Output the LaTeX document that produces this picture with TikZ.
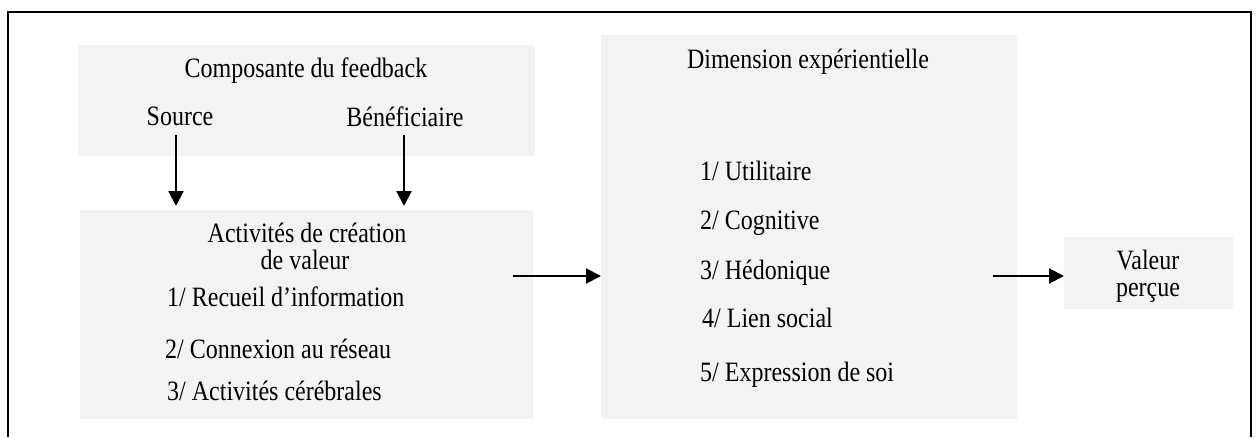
\documentclass[tikz,border=0pt]{standalone}
\usepackage{fontspec}
\usepackage{graphicx}
\setmainfont{Liberation Serif}
\usetikzlibrary{arrows.meta}
\definecolor{boxgray}{RGB}{243,243,243}
\newcommand{\narrowtxt}[1]{\scalebox{0.857}[1]{#1}}
\begin{document}
\begin{tikzpicture}[x=1pt,y=-1pt,
  panel/.style={fill=boxgray, draw=none, inner sep=0pt, outer sep=0pt},
  lbl/.style={font=\fontsize{28}{32}\selectfont, inner sep=0pt},
  arr/.style={-{Triangle[width=15pt,length=15pt]}, line width=2pt}]
\useasboundingbox (0,0) rectangle (1256,437);
\fill[white] (0,0) rectangle (1256,437);
\draw[line width=2pt] (8,437) -- (8,12) -- (1251,12) -- (1251,437);

% panels
\node[panel, minimum width=457pt, minimum height=111pt] (comp) at (306.5,100.5) {};
\node[panel, minimum width=453pt, minimum height=209pt] (act) at (306.5,314.5) {};
\node[panel, minimum width=416pt, minimum height=384pt] (dim) at (809,227) {};
\node[panel, minimum width=169pt, minimum height=72pt] (val) at (1148.5,273) {};

% texts, first panel
\node[lbl, anchor=base] (tcomp) at (306,77) {\narrowtxt{Composante du feedback}};
\node[lbl, anchor=base] (src) at (180,125) {\narrowtxt{Source}};
\node[lbl, anchor=base] (ben) at (405,126) {\narrowtxt{Bénéficiaire}};

% texts, second panel
\node[lbl, anchor=base] (tact1) at (307,242) {\narrowtxt{Activités de création}};
\node[lbl, anchor=base] (tact2) at (305,269) {\narrowtxt{de valeur}};
\node[lbl, anchor=base west] (a1) at (167,306) {\narrowtxt{1/ Recueil d’information}};
\node[lbl, anchor=base west] (a2) at (165,358) {\narrowtxt{2/ Connexion au réseau}};
\node[lbl, anchor=base west] (a3) at (167,400) {\narrowtxt{3/ Activités cérébrales}};

% texts, third panel
\node[lbl, anchor=base] (tdim) at (808,68) {\narrowtxt{Dimension expérientielle}};
\node[lbl, anchor=base west] (d1) at (700,180) {\narrowtxt{1/ Utilitaire}};
\node[lbl, anchor=base west] (d2) at (700,229) {\narrowtxt{2/ Cognitive}};
\node[lbl, anchor=base west] (d3) at (700,279) {\narrowtxt{3/ Hédonique}};
\node[lbl, anchor=base west] (d4) at (702,327) {\narrowtxt{4/ Lien social}};
\node[lbl, anchor=base west] (d5) at (700,381) {\narrowtxt{5/ Expression de soi}};

% texts, fourth panel
\node[lbl, anchor=base] (tval1) at (1148,269) {\narrowtxt{Valeur}};
\node[lbl, anchor=base] (tval2) at (1148,296) {\narrowtxt{perçue}};

% connectors
\coordinate (srcA) at (176,135);
\coordinate (benA) at (404,135);
\coordinate (actA) at (513,276);
\coordinate (dimA) at (993,276);
\draw[arr, shorten >=4pt] (srcA) -- (srcA |- act.north);
\draw[arr, shorten >=4pt] (benA) -- (benA |- act.north);
\draw[arr] (actA) -- (actA -| dim.west);
\draw[arr] (dimA) -- (dimA -| val.west);
\end{tikzpicture}
\end{document}
